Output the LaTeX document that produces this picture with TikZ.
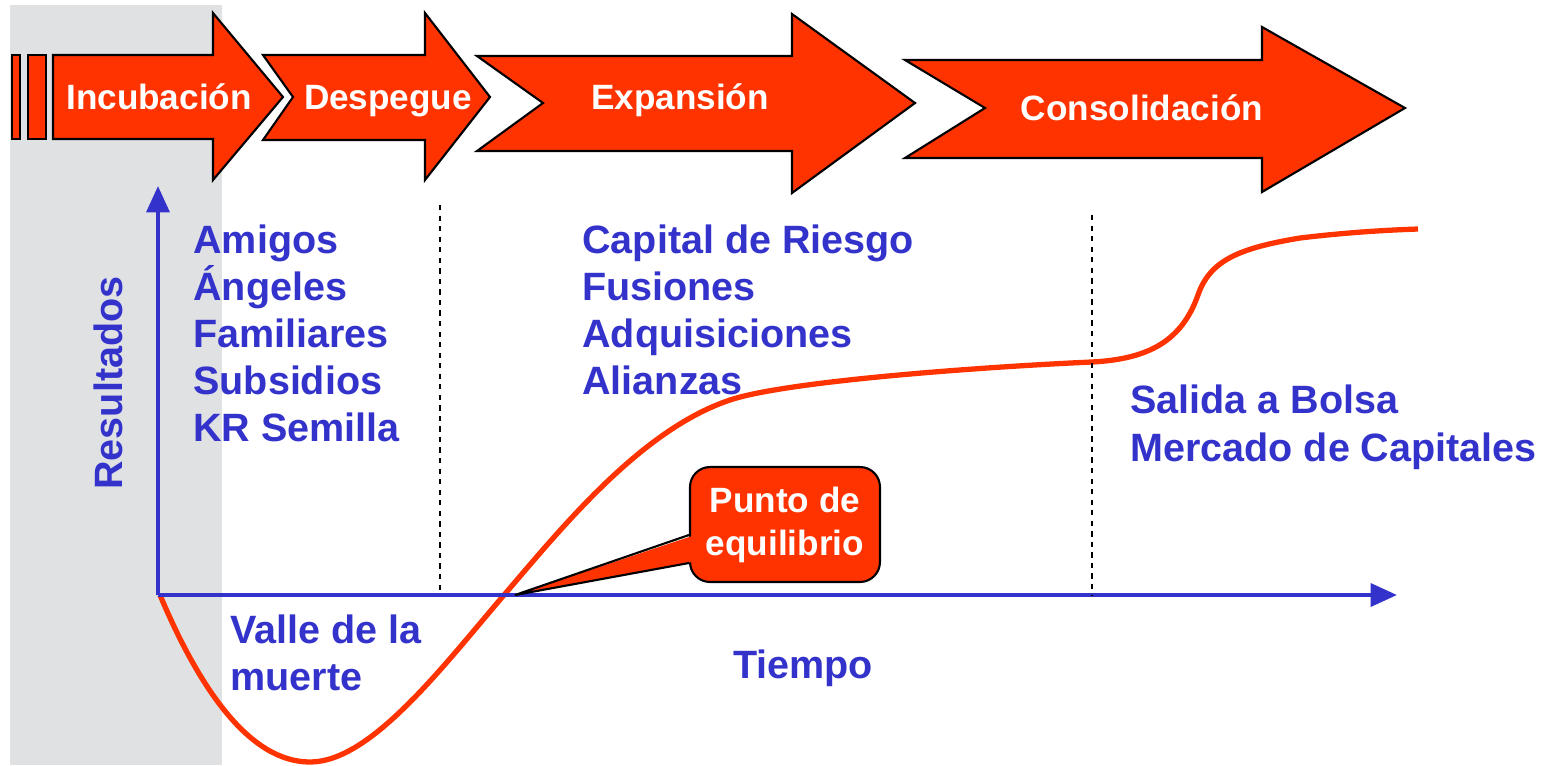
\documentclass[tikz,border=0pt]{standalone}
\usepackage{fontspec}
\setmainfont{Liberation Sans}
\usetikzlibrary{arrows.meta,calc}
\definecolor{rojo}{HTML}{FF3300}
\definecolor{azul}{HTML}{3333CC}
\definecolor{fondo}{HTML}{E0E1E3}
\tikzset{
	etapa/.style={fill=rojo,draw=black,line width=1.2pt,line join=miter},
	rotulo/.style={text=white,font=\fontsize{20}{24}\selectfont\bfseries,inner sep=0,anchor=base},
	texto/.style={text=azul,font=\fontsize{22.5}{27}\selectfont\bfseries,inner sep=0,anchor=base west},
	eje/.style={draw=azul,line width=2.3pt,-{Triangle[length=15pt,width=13pt]}},
	globo/.style={fill=rojo,draw=black,line width=1.2pt,rounded corners=0.4cm,text=white,
		minimum width=3.8cm,minimum height=2.3cm,align=center,
		font=\fontsize{20}{24.5}\selectfont\bfseries}
}
\begin{document}
\begin{tikzpicture}[x=0.02cm,y=-0.02cm]
	\useasboundingbox (0,0) rectangle (1546,765);
	\fill[fondo] (10,5) rectangle (222,765);
	% etapas
	\draw[etapa] (12,55) rectangle (20,139);
	\draw[etapa] (28,55) rectangle (46,139);
	\draw[etapa] (53,55) -- (213,55) -- (213,13) -- (283,97) -- (213,180)
		-- (213,139) -- (53,139) -- cycle;
	\draw[etapa] (263,55) -- (425,55) -- (425,13) -- (490,97) -- (425,180)
		-- (425,140) -- (263,140) -- (293,97) -- cycle;
	\draw[etapa] (477,56) -- (792,56) -- (792,14) -- (915,103) -- (792,193)
		-- (792,151) -- (477,151) -- (543,103) -- cycle;
	\draw[etapa] (905,60) -- (1262,60) -- (1262,27) -- (1405,108) -- (1262,192)
		-- (1262,158) -- (905,158) -- (985,108) -- cycle;
	\node[rotulo] (incub) at (159,109) {Incubación};
	\node[rotulo] (despeg) at (388,109) {Despegue};
	\node[rotulo] (expan) at (680,109) {Expansión};
	\node[rotulo] (consol) at (1142,120) {Consolidación};
	% curva
	\draw[rojo,line width=3pt] (160,595) .. controls (200,690) and (250,762) .. (310,762)
		.. controls (370,762) and (440,670) .. (504,595)
		.. controls (560,530) and (640,430) .. (730,400)
		.. controls (790,380) and (1000,366) .. (1092,362)
		.. controls (1150,359) and (1182,340) .. (1198,295)
		.. controls (1210,260) and (1240,248) .. (1300,238)
		.. controls (1350,232) and (1390,230) .. (1418,229);
	% ejes
	\coordinate (O) at (158,595);
	\coordinate (ytop) at (158,186);
	\coordinate (xend) at (1397,595);
	\draw[eje] (O) -- (ytop);
	\draw[eje] (O) -- (xend);
	\coordinate (d1) at (440,205);
	\coordinate (d1b) at (440,595);
	\coordinate (d2) at (1092,215);
	\coordinate (d2b) at (1092,595);
	\draw[dashed,line width=0.8pt] (d1) -- (d1b) (d2) -- (d2b);
	\node[texto,rotate=90,anchor=base] (result) at (122,383) {Resultados};
	\foreach \t [count=\i] in {Amigos,Ángeles,Familiares,Subsidios,KR Semilla}
		\node[texto] (fin\i) at (193,{253+47*(\i-1)}) {\t};
	\foreach \t [count=\i] in {Capital de Riesgo,Fusiones,Adquisiciones,Alianzas}
		\node[texto] (cap\i) at (582,{253+47*(\i-1)}) {\t};
	\node[texto] (bolsa) at (1130,413) {Salida a Bolsa};
	\node[texto] (merc) at (1130,461) {Mercado de Capitales};
	\node[texto] (valle) at (230,643) {Valle de la};
	\node[texto] (muerte) at (230,690) {muerte};
	\node[texto,anchor=base] (tiempo) at (803,678) {Tiempo};
	% punto de equilibrio
	\node[globo] (pe) at (785,524.5) {Punto de\\equilibrio};
	\coordinate (pe tip) at (515,595);
	\fill[rojo] ($(pe.west)+(3,11.5)$) -- (pe tip) -- ($(pe.west)+(3,37.5)$) -- cycle;
	\draw[line width=1.2pt] ($(pe.west)+(0,10.5)$) -- (pe tip) -- ($(pe.west)+(0,38.5)$);
\end{tikzpicture}
\end{document}
